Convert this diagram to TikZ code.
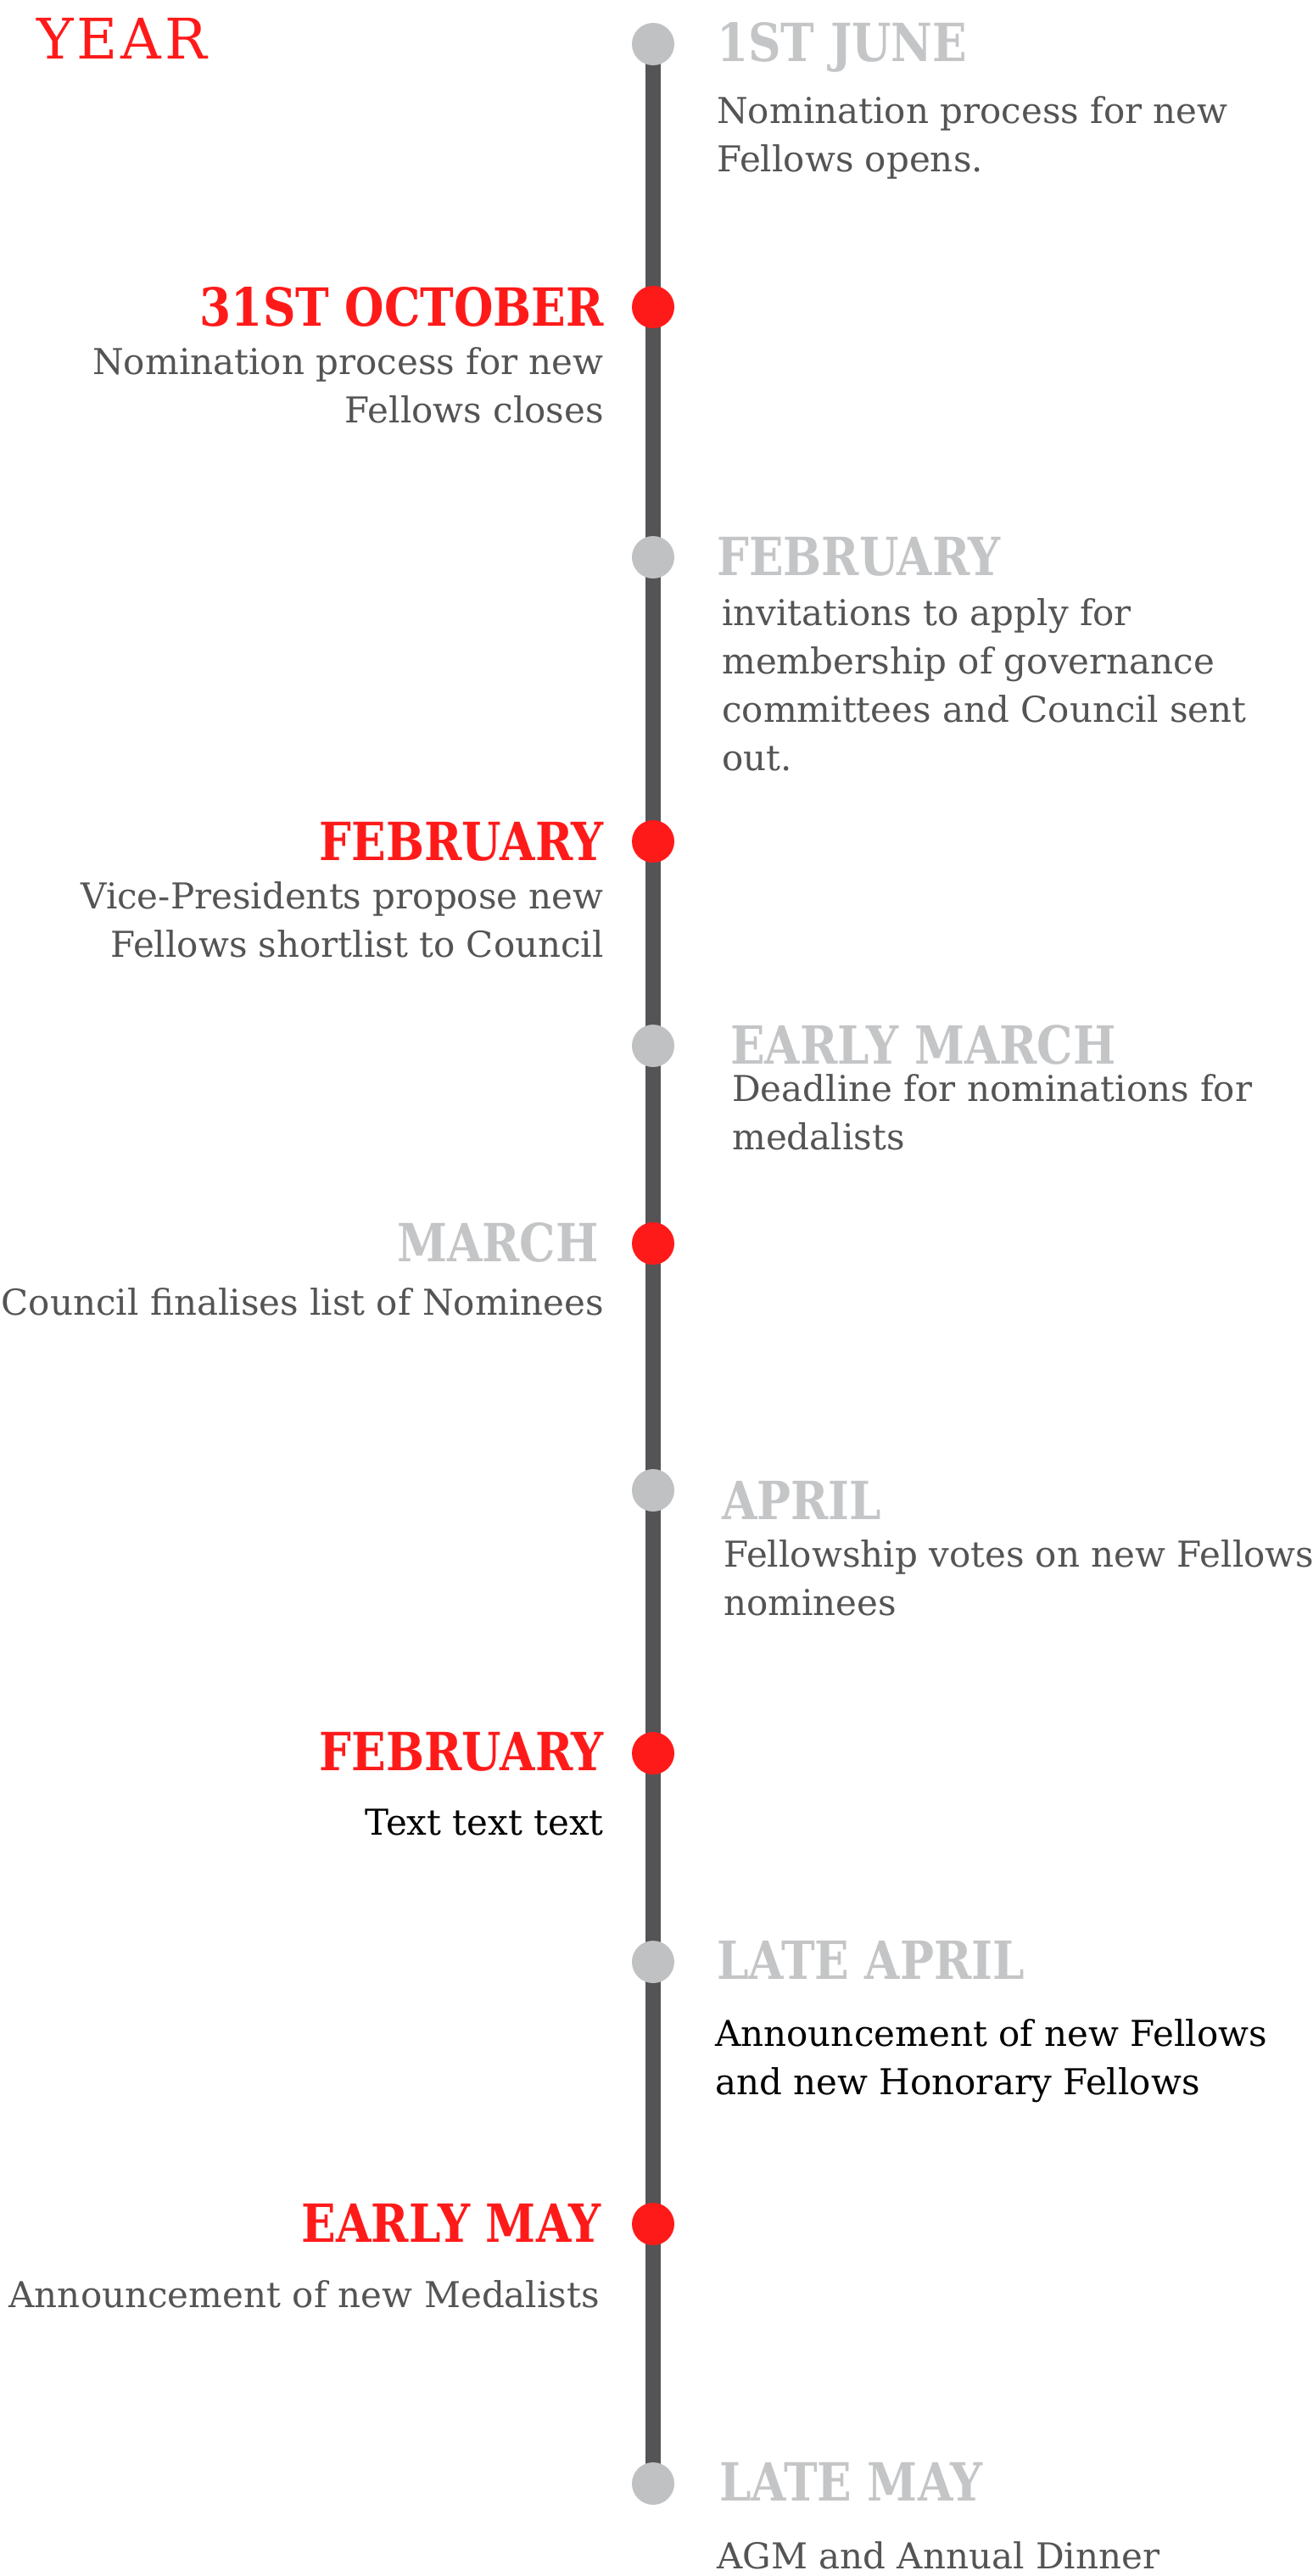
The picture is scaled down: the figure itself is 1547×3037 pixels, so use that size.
\documentclass[tikz,border=0pt]{standalone}
\usepackage{fontspec}
\usepackage{xcolor}
\usepackage{tikz}
\usetikzlibrary{positioning}
\newfontfamily\headfont[FakeStretch=0.86]{DejaVu Serif}
\newfontfamily\bodyfont{DejaVu Serif}
\definecolor{tlred}{HTML}{FF1A1A}
\definecolor{tlgray}{HTML}{C4C5C7}
\definecolor{dotgray}{HTML}{C0C1C3}
\definecolor{linegray}{HTML}{545456}
\definecolor{txtgray}{HTML}{545454}
\tikzset{
  head/.style={inner sep=0pt, font=\headfont\bfseries\fontsize{62}{70}\selectfont},
  desc/.style={inner sep=0pt, text=txtgray, font=\bodyfont\fontsize{42}{57}\selectfont},
  dotg/.style={circle, fill=dotgray, minimum size=50pt, inner sep=0pt},
  dotr/.style={circle, fill=tlred, minimum size=50pt, inner sep=0pt},
}

\begin{document}
\begin{tikzpicture}[x=1pt,y=-1pt]
\def\lx{845}
\def\rx{712}
\useasboundingbox (0,0) rectangle (1547,3037);

% Timeline
\coordinate (top) at (770,52);
\coordinate (bot) at (770,2928);
\draw[linegray, line width=18pt] (top) -- (bot);

% Dots
\node[dotg] (d1) at (770,52) {};
\node[dotr] (d2) at (770,362) {};
\node[dotg] (d3) at (770,657) {};
\node[dotr] (d4) at (770,992) {};
\node[dotg] (d5) at (770,1233) {};
\node[dotr] (d6) at (770,1466) {};
\node[dotg] (d7) at (770,1757) {};
\node[dotr] (d8) at (770,2067) {};
\node[dotg] (d9) at (770,2313) {};
\node[dotr] (d10) at (770,2622) {};
\node[dotg] (d11) at (770,2928) {};

% Title
\node[anchor=base west, inner sep=0pt, text=tlred, font=\bodyfont\fontsize{66}{70}\selectfont] (year) at (43,70) {Y\hspace{4pt}E\hspace{4pt}A\hspace{4pt}R};

% Right side (base anchor = last line)
\node[head, text=tlgray, anchor=base west] (h1) at (\lx,73) {1ST JUNE};
\node[desc, align=left, anchor=base west] (t1) at (\lx,203) {Nomination process for new\\Fellows opens.};

\node[head, text=tlgray, anchor=base west] (h3) at (\lx,678) {FEBRUARY};
\node[desc, align=left, anchor=base west] (t3) at (851,908) {invitations to apply for\\membership of governance\\committees and Council sent\\out.};

\node[head, text=tlgray, anchor=base west] (h5) at (861,1254) {EARLY MARCH};
\node[desc, align=left, anchor=base west] (t5) at (863,1355) {Deadline for nominations for\\medalists};

\node[head, text=tlgray, anchor=base west] (h7) at (851,1791) {APRIL};
\node[desc, align=left, anchor=base west] (t7) at (853,1904) {Fellowship votes on new Fellows\\nominees};

\node[head, text=tlgray, anchor=base west] (h9) at (\lx,2333) {LATE APRIL};
\node[desc, text=black, align=left, anchor=base west] (t9) at (843,2469) {Announcement of new Fellows\\and new Honorary Fellows};

\node[head, text=tlgray, anchor=base west] (h11) at (848,2948) {LATE MAY};
\node[desc, anchor=base west] (t11) at (\lx,3028) {AGM and Annual Dinner};

% Left side
\node[head, text=tlred, anchor=base east] (h2) at (\rx,384) {31ST OCTOBER};
\node[desc, align=right, anchor=base east] (t2) at (\rx,498) {Nomination process for new\\Fellows closes};

\node[head, text=tlred, anchor=base east] (h4) at (\rx,1014) {FEBRUARY};
\node[desc, align=right, anchor=base east] (t4) at (\rx,1128) {Vice-Presidents propose new\\Fellows shortlist to Council};

\node[head, text=tlgray, anchor=base east] (h6) at (706,1487) {MARCH};
\node[desc, anchor=base east] (t6) at (\rx,1550) {Council finalises list of Nominees};

\node[head, text=tlred, anchor=base east] (h8) at (\rx,2087) {FEBRUARY};
\node[desc, text=black, anchor=base east] (t8) at (\rx,2163) {Text text text};

\node[head, text=tlred, anchor=base east] (h10) at (709,2643) {EARLY MAY};
\node[desc, anchor=base east] (t10) at (707,2720) {Announcement of new Medalists};

\end{tikzpicture}
\end{document}
